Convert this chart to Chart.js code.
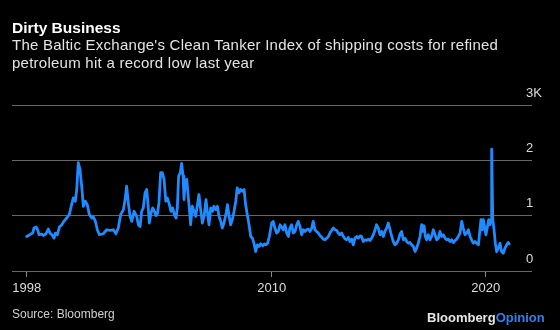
<!DOCTYPE html>
<html><head><meta charset="utf-8">
<script src="https://cdn.jsdelivr.net/npm/chart.js@4"></script>
<style>
html,body{margin:0;padding:0;background:#000;width:560px;height:330px;overflow:hidden}
#wrap{position:relative;width:560px;height:330px;background:#000}
canvas{position:absolute;left:0;top:0}
.t{position:absolute;font-family:"Liberation Sans",Arial,sans-serif;white-space:nowrap}
#title{left:12px;top:19px;font-size:15.5px;font-weight:bold;color:#fff}
#sub{left:12px;top:36px;font-size:15px;letter-spacing:0.25px;line-height:17.7px;color:#e4e4e4}
#src{left:12px;top:307px;font-size:12px;color:#cfcfcf}
#logo{left:427px;top:310px;font-size:13px;font-weight:bold;color:#e6e6e6}
#logo span{color:#2a80f0}
</style></head>
<body><div id="wrap"><canvas id="c" width="560" height="330"></canvas>
<div class="t" id="title">Dirty Business</div>
<div class="t" id="sub">The Baltic Exchange's Clean Tanker Index of shipping costs for refined<br>petroleum hit a record low last year</div>
<div class="t" id="src">Source: Bloomberg</div>
<div class="t" id="logo">Bloomberg<span>Opinion</span></div>
</div>
<script>
const dates = [1998.55,1998.63,1998.74,1998.83,1998.89,1998.99,1999.05,1999.13,1999.25,1999.33,1999.45,1999.56,1999.64,1999.73,1999.83,1999.89,1999.98,
2000.08,2000.19,2000.29,2000.42,2000.54,2000.65,2000.73,2000.82,2000.89,2000.96,2001.04,2001.12,2001.20,2001.29,2001.38,2001.48,2001.59,2001.67,2001.76,2001.85,2001.95,
2002.13,2002.29,2002.44,2002.60,2002.72,2002.83,2002.94,2003.07,2003.15,2003.22,2003.30,2003.38,2003.46,2003.57,2003.69,2003.77,2003.85,2003.92,
2004.00,2004.08,2004.16,2004.22,2004.28,2004.36,2004.44,2004.52,2004.59,2004.66,2004.73,2004.81,2004.89,2004.97,2005.05,2005.12,2005.22,2005.29,2005.37,2005.45,2005.53,2005.59,2005.65,2005.73,2005.79,2005.86,2005.90,2005.96,
2006.03,2006.09,2006.15,2006.21,2006.29,2006.37,2006.45,2006.53,2006.60,2006.68,2006.76,2006.85,2006.93,2006.99,2007.07,2007.15,2007.23,2007.30,2007.38,2007.46,2007.54,2007.62,2007.69,2007.77,2007.87,2007.93,
2008.00,2008.08,2008.16,2008.24,2008.32,2008.39,2008.47,2008.55,2008.63,2008.71,2008.78,2008.86,2008.94,2009.02,2009.10,2009.17,2009.25,2009.33,2009.41,2009.48,2009.58,2009.66,2009.73,2009.81,2009.89,
2010.00,2010.07,2010.15,2010.23,2010.31,2010.39,2010.46,2010.54,2010.62,2010.70,2010.78,2010.85,2010.93,2011.01,2011.09,2011.17,2011.24,2011.32,2011.40,2011.48,2011.56,2011.63,2011.71,2011.79,2011.87,2011.94,
2012.02,2012.10,2012.18,2012.26,2012.33,2012.41,2012.49,2012.57,2012.65,2012.72,2012.80,2012.88,2012.96,2013.04,2013.11,2013.19,2013.27,2013.35,2013.42,2013.50,2013.58,2013.66,2013.74,2013.81,2013.89,2013.97,
2014.05,2014.13,2014.20,2014.28,2014.36,2014.44,2014.52,2014.59,2014.67,2014.75,2014.83,2014.90,2014.98,2015.06,2015.14,2015.22,2015.29,2015.37,2015.45,2015.53,2015.61,2015.68,2015.76,2015.84,2015.92,
2016.00,2016.07,2016.15,2016.23,2016.31,2016.38,2016.46,2016.54,2016.62,2016.70,2016.77,2016.85,2016.93,2017.01,2017.05,2017.12,2017.18,2017.24,2017.32,2017.40,2017.47,2017.55,2017.63,2017.71,2017.79,2017.86,2017.94,
2018.02,2018.10,2018.18,2018.25,2018.33,2018.41,2018.49,2018.57,2018.64,2018.72,2018.80,2018.88,2018.95,2019.03,2019.11,2019.19,2019.27,2019.34,2019.42,2019.50,2019.58,2019.66,2019.73,2019.78,2019.84,2019.89,2019.95,
2020.01,2020.07,2020.14,2020.20,2020.25,2020.28,2020.33,2020.39,2020.45,2020.51,2020.59,2020.67,2020.74,2020.82,2020.90,2020.98,2021.05,2021.10];
const values = [624,642,667,685,776,794,758,655,667,642,673,758,685,655,594,685,655,
794,836,897,958,1018,1200,1321,1261,1473,1958,1836,1533,1170,1261,1200,1018,958,976,897,745,655,
673,745,733,745,673,776,1018,1109,1291,1533,1230,988,897,1079,988,836,806,1079,
1139,1412,1473,1200,867,1048,1139,1079,1000,1036,1230,1776,1776,1655,1261,1321,1200,1079,1139,1018,958,1139,1715,1776,1945,1715,1291,1624,
1655,1382,1139,836,1170,1079,988,1200,1382,1109,867,1018,1291,1079,836,1139,1079,1170,1109,1170,988,897,776,867,1048,1200,
1018,836,927,1079,1261,1503,1412,1473,1442,1473,1200,1018,836,624,594,503,352,473,442,491,455,491,473,503,624,
867,897,776,685,715,836,794,745,836,685,624,776,836,685,715,836,897,806,655,745,715,745,758,715,776,897,
745,715,685,636,612,576,564,594,624,685,733,776,745,733,685,655,685,624,582,564,606,533,576,473,594,624,
594,636,624,533,564,552,576,552,594,655,745,836,776,655,715,624,715,776,867,745,624,533,473,503,564,
670,715,564,594,533,503,515,473,442,352,412,503,624,836,715,818,624,564,655,564,624,745,655,564,594,715,624,
655,594,564,576,533,564,515,552,576,624,685,897,776,655,685,745,624,564,503,533,503,473,745,927,745,927,806,
655,776,927,836,927,2200,927,745,503,352,412,503,352,321,412,473,515,491];
const xTickValues = [1998.55, 2010, 2020];
const xTickLabels = ['1998', '2010', '2020'];
const yTickValues = [0, 1000, 2000, 3000];
const yTickLabels = ['0', '1', '2', '3K'];

Chart.defaults.font.family = '"Liberation Sans", Arial, sans-serif';
new Chart(document.getElementById('c'), {
  type: 'line',
  data: { datasets: [{
    data: dates.map((d, i) => ({ x: d, y: values[i] })),
    borderColor: '#1f8bff', borderWidth: 2.8, pointRadius: 0, tension: 0, fill: false,
    borderJoinStyle: 'round', borderCapStyle: 'round'
  }]},
  options: {
    responsive: false, animation: false,
    layout: { padding: { top: 105, left: 12, right: 0, bottom: 0 } },
    plugins: { legend: { display: false }, tooltip: { enabled: false } },
    scales: {
      x: {
        type: 'linear', min: 1997.864, max: 2022.164,
        afterBuildTicks: s => { s.ticks = xTickValues.map(v => ({ value: v })); },
        ticks: { callback: (v, i) => xTickLabels[i], color: '#dcdcdc', font: { size: 13 }, padding: 4, maxRotation: 0, autoSkip: false },
        grid: { display: true, drawOnChartArea: false, drawTicks: true, tickLength: 6, color: '#8a8a8a' },
        border: { display: false },
        afterFit: s => { s.height = 59; }
      },
      y: {
        position: 'right', min: 0, max: 3000,
        afterBuildTicks: s => { s.ticks = yTickValues.map(v => ({ value: v })); },
        ticks: { callback: (v, i) => yTickLabels[i], color: '#dcdcdc', font: { size: 13 }, mirror: true, crossAlign: 'far', padding: 10, labelOffset: -12 },
        grid: { color: '#666', drawTicks: false, lineWidth: 1 },
        border: { display: false },
        afterFit: s => { s.width = 28; }
      }
    }
  }
});
</script>
</body></html>
